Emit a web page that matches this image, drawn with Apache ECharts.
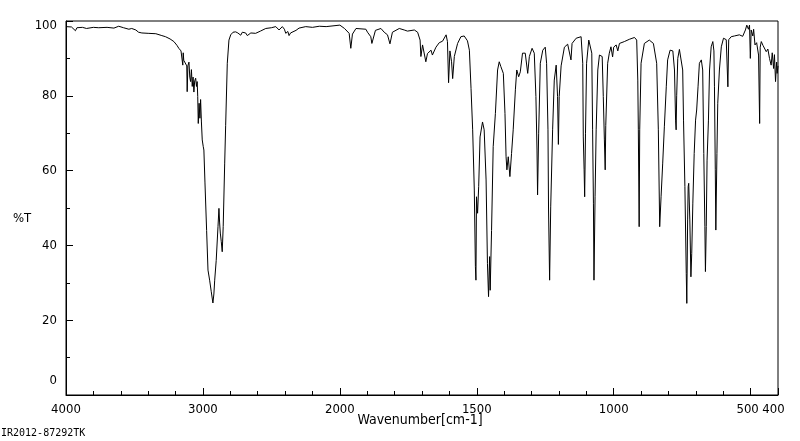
<!DOCTYPE html>
<html>
<head>
<meta charset="utf-8">
<script src="https://cdn.jsdelivr.net/npm/echarts@6/dist/echarts.min.js"></script>
<style>
html,body{margin:0;padding:0;background:#fff;}
#chart{width:800px;height:441px;}
</style>
</head>
<body>
<div id="chart"></div>
<script>
// ---- Data (wavenumber in cm-1, transmittance in %T) ----
const wnHigh = [4000,3990,3960,3931,3920,3880,3850,3800,3761,3700,
  3650,3615,3580,3541,3520,3490,3470,3446,3400,3344,
  3300,3273,3240,3212,3190,3176,3160,3150,3147,3144,
  3140,3118,3115,3110,3102,3096,3090,3084,3078,3072,
  3066,3060,3053,3047,3042,3038,3034,3028,3022,3017,
  3011,3005,2998,2993,2985,2973,2963,2951,2939,2927,
  2920,2914,2903,2890,2883,2878,2873,2866,2859,2852,
  2841,2834,2822,2810,2797,2780,2761,2745,2724,2712,
  2700,2688,2676,2650,2615,2580,2541,2500,2468,2444,
  2420,2405,2395,2380,2371,2360,2347,2320,2298,2249,
  2200,2150,2100,2050,2000];
const tHigh = [98.5,98.6,98.4,97.4,98.2,98.3,98.0,98.3,98.2,98.3,
  98.1,98.6,98.2,97.8,98.0,97.6,97.0,96.8,96.7,96.6,
  96.1,95.8,95.2,94.5,93.5,92.7,92.0,91.8,88.2,91.5,
  89.5,88.0,81.1,88.0,89.0,85.0,83.8,87.0,82.5,85.0,
  81.0,84.0,84.7,82.5,83.8,79.8,72.6,78.0,74.0,79.0,
  73.0,68.2,66.5,65.5,56.7,44.0,33.4,30.7,27.6,24.6,
  27.0,30.7,36.0,45.0,49.9,46.0,43.3,41.0,38.3,45.0,
  62.0,72.0,88.7,94.9,96.3,97.0,97.1,96.8,96.2,97.0,
  97.2,96.8,96.1,96.8,96.7,97.3,98.0,98.2,98.5,97.6,
  98.5,97.8,96.7,97.2,96.1,96.8,96.7,97.5,98.1,98.5,
  98.3,98.6,98.5,98.7,98.9];

const wnMid = [1983,1966,1960,1954,1941,1905,1899,1887,1883,1870,
  1850,1838,1826,1817,1808,1783,1765,1753,1747,1728,
  1716,1707,1704,1698,1686,1680,1667,1662,1649,1637,
  1625,1619,1612,1607,1603,1598,1592,1588,1582,1570,
  1558,1552,1546,1540,1534,1527,1521,1515,1509,1505,
  1503,1501,1497,1493,1488,1479,1473,1466,1461,1457,
  1453,1451,1446,1440,1432,1424,1418,1412,1403,1397,
  1393,1390,1385,1379,1373,1367,1359,1354,1347,1341,
  1333,1323,1314,1308,1298,1290,1284,1280,1278,1274,
  1268,1259,1250,1245,1240,1238,1234,1230,1223,1217,
  1210,1205,1202,1199,1192];
const tMid = [98.0,96.7,92.7,96.5,98.0,97.8,97.0,95.8,94.0,97.5,
  98.0,97.0,96.3,93.9,97.0,98.0,97.6,97.3,97.8,97.6,
  97.0,94.9,90.5,93.6,89.1,91.3,92.2,90.9,93.0,94.2,
  94.6,94.9,96.3,94.5,83.5,92.0,89.1,84.6,90.5,94.0,
  95.8,96.3,96.0,95.5,94.7,92.2,82.0,70.9,54.8,34.3,
  30.7,53.0,48.6,55.7,69.0,73.0,70.9,57.5,35.2,26.3,
  37.0,28.0,44.0,66.4,75.3,86.9,89.1,87.8,86.0,75.3,
  63.7,60.2,63.7,58.4,64.6,70.9,81.6,86.9,85.1,86.4,
  91.4,91.4,86.0,90.5,92.7,91.4,79.8,65.5,53.5,70.0,
  88.7,92.2,93.0,88.7,70.9,50.0,30.7,50.3,70.9,84.2,
  88.2,79.8,67.0,79.8,88.0];

const wnLow = [1180,1168,1162,1156,1152,1137,1119,1113,1111,1108,
  1106,1103,1099,1091,1085,1080,1077,1074,1072,1068,
  1064,1058,1052,1042,1038,1034,1031,1029,1022,1016,
  1010,1004,1000,991,985,979,961,943,924,916,
  912,910,907,905,900,888,870,855,849,843,
  837,832,827,821,815,808,803,794,784,778,
  774,772,770,766,760,753,748,745,740,735,
  733,730,728,726,722,718,715,711,706,701,
  697,692,687,680,675,671,667,665,662,659,
  654,650,644,638,634,632,629,627,623,620,
  614,607,599,589,583,580,571,559,553,541,
  529,519,514,508,504,501,498,492,489,484,
  478,471,467,465,461,455,449,443,437,431,
  425,421,416,413,409,405,403,400];
const tLow = [93.0,93.8,94.0,89.6,94.0,95.4,95.8,88.7,69.0,60.2,
  53.0,70.0,88.7,94.9,94.9,91.4,70.9,51.3,30.7,53.0,
  70.9,86.9,90.9,90.5,79.8,68.2,60.2,72.0,88.7,91.4,
  93.1,90.4,93.0,93.6,92.0,94.0,94.5,95.1,95.6,94.9,
  84.2,70.9,45.0,70.9,88.7,94.0,94.9,94.0,93.6,88.7,
  70.9,45.0,53.0,62.0,71.7,82.4,89.6,92.2,92.0,86.9,
  73.5,70.9,80.0,90.0,92.4,92.0,86.9,73.5,55.7,32.5,
  24.5,46.8,55.7,56.6,46.8,31.6,37.9,51.3,64.6,73.5,
  76.2,82.4,88.7,89.6,86.9,64.6,45.0,33.0,45.0,62.8,
  73.5,86.9,93.1,94.5,92.0,82.4,60.2,44.1,64.6,78.0,
  86.9,93.1,95.4,95.0,82.4,95.0,95.8,96.0,95.5,96.3,
  95.9,97.6,98.9,97.8,98.9,90.0,97.6,96.0,97.8,93.6,
  94.2,90.9,72.6,93.0,94.5,93.5,94.0,91.8,92.5,90.0,
  88.2,91.5,87.3,91.0,83.8,89.0,86.0,88.0];

// Axis tick labels (wavenumber) and %T ticks
const xTickLabels = [4000, 3000, 2000, 1500, 1000, 500, 400];
const yTicks = [0, 20, 40, 60, 80, 100];

// Piecewise axis: 4000-2000 drawn at half the scale of 2000-400
function toU(w){ return w >= 2000 ? (4000 - w) / 2 : 1000 + (2000 - w); }
function fromU(u){ return u <= 1000 ? 4000 - 2 * u : 2000 - (u - 1000); }

const wn = wnHigh.concat(wnMid, wnLow);
const tr = tHigh.concat(tMid, tLow);
if (wn.length !== tr.length) console.error('length mismatch', wn.length, tr.length);
const seriesData = wn.map((w, i) => [toU(w), tr[i]]);
const labelU = xTickLabels.map(toU);

const FONT = "'DejaVu Sans Condensed', 'DejaVu Sans', sans-serif";

const chart = echarts.init(document.getElementById('chart'));
chart.setOption({
  animation: false,
  backgroundColor: '#fff',
  grid: { left: 66, right: 22, top: 21, bottom: 46, show: true, borderColor: '#000', borderWidth: 1, backgroundColor: 'transparent' },
  xAxis: [
    {
      type: 'value', min: 0, max: 2600, interval: 100, position: 'bottom',
      axisLine: { show: true, lineStyle: { color: '#000', width: 1 } },
      axisTick: { show: true, inside: true, length: 4, lineStyle: { color: '#000' } },
      splitLine: { show: false },
      axisLabel: {
        margin: 8, color: '#000', fontFamily: FONT, fontSize: 13,
        formatter: function (v) {
          const r = Math.round(v);
          if (labelU.indexOf(r) < 0) return '';
          const w = Math.round(fromU(r));
          if (w === 400) return '{r|' + w + '}';
          if (w === 500) return '{f|' + w + '}';
          return String(w);
        },
        rich: {
          r: { fontFamily: FONT, fontSize: 13, color: '#000', padding: [0, 9, 0, 0] },
          f: { fontFamily: FONT, fontSize: 13, color: '#000', padding: [0, 6, 0, 0] }
        }
      },
      name: 'Wavenumber[cm-1]', nameLocation: 'middle', nameGap: 18, nameMoveOverlap: false,
      nameTextStyle: { color: '#000', fontFamily: FONT, fontSize: 14, verticalAlign: 'top', padding: [0, 4, 0, 0] }
    },
    {
      type: 'value', min: 0, max: 2600, interval: 500, position: 'bottom',
      axisLine: { show: false },
      axisTick: { show: true, inside: true, length: 7, lineStyle: { color: '#000' } },
      axisLabel: { show: false },
      splitLine: { show: false }
    }
  ],
  yAxis: {
    type: 'value', min: 0, max: 100, interval: 20,
    axisLine: { show: true, lineStyle: { color: '#000', width: 1 } },
    axisTick: { show: true, inside: true, length: 7, lineStyle: { color: '#000' } },
    minorTick: { show: true, splitNumber: 2, length: 4, lineStyle: { color: '#000' } },
    splitLine: { show: false },
    axisLabel: {
      margin: 9, color: '#000', fontFamily: FONT, fontSize: 13,
      formatter: function (v) {
        if (yTicks.indexOf(v) < 0) return '';
        if (v === 0) return '{lo|0}';
        if (v === 100) return '{hi|100}';
        return String(v);
      },
      rich: {
        lo: { fontFamily: FONT, fontSize: 13, color: '#000', padding: [0, 0, 28, 0] },
        hi: { fontFamily: FONT, fontSize: 13, color: '#000', padding: [9, 0, 0, 0] }
      }
    }
  },
  graphic: [
    { type: 'text', left: 13, top: 212, style: { text: '%T', fill: '#000', font: '13px ' + FONT } },
    { type: 'text', left: 1, top: 428, style: { text: 'IR2012-87292TK', fill: '#000', font: '10px "DejaVu Sans Mono", monospace' } }
  ],
  series: [{
    type: 'line', xAxisIndex: 0, data: seriesData, symbol: 'none', smooth: false,
    lineStyle: { color: '#000', width: 1 }, clip: true
  }]
});
</script>
</body>
</html>
